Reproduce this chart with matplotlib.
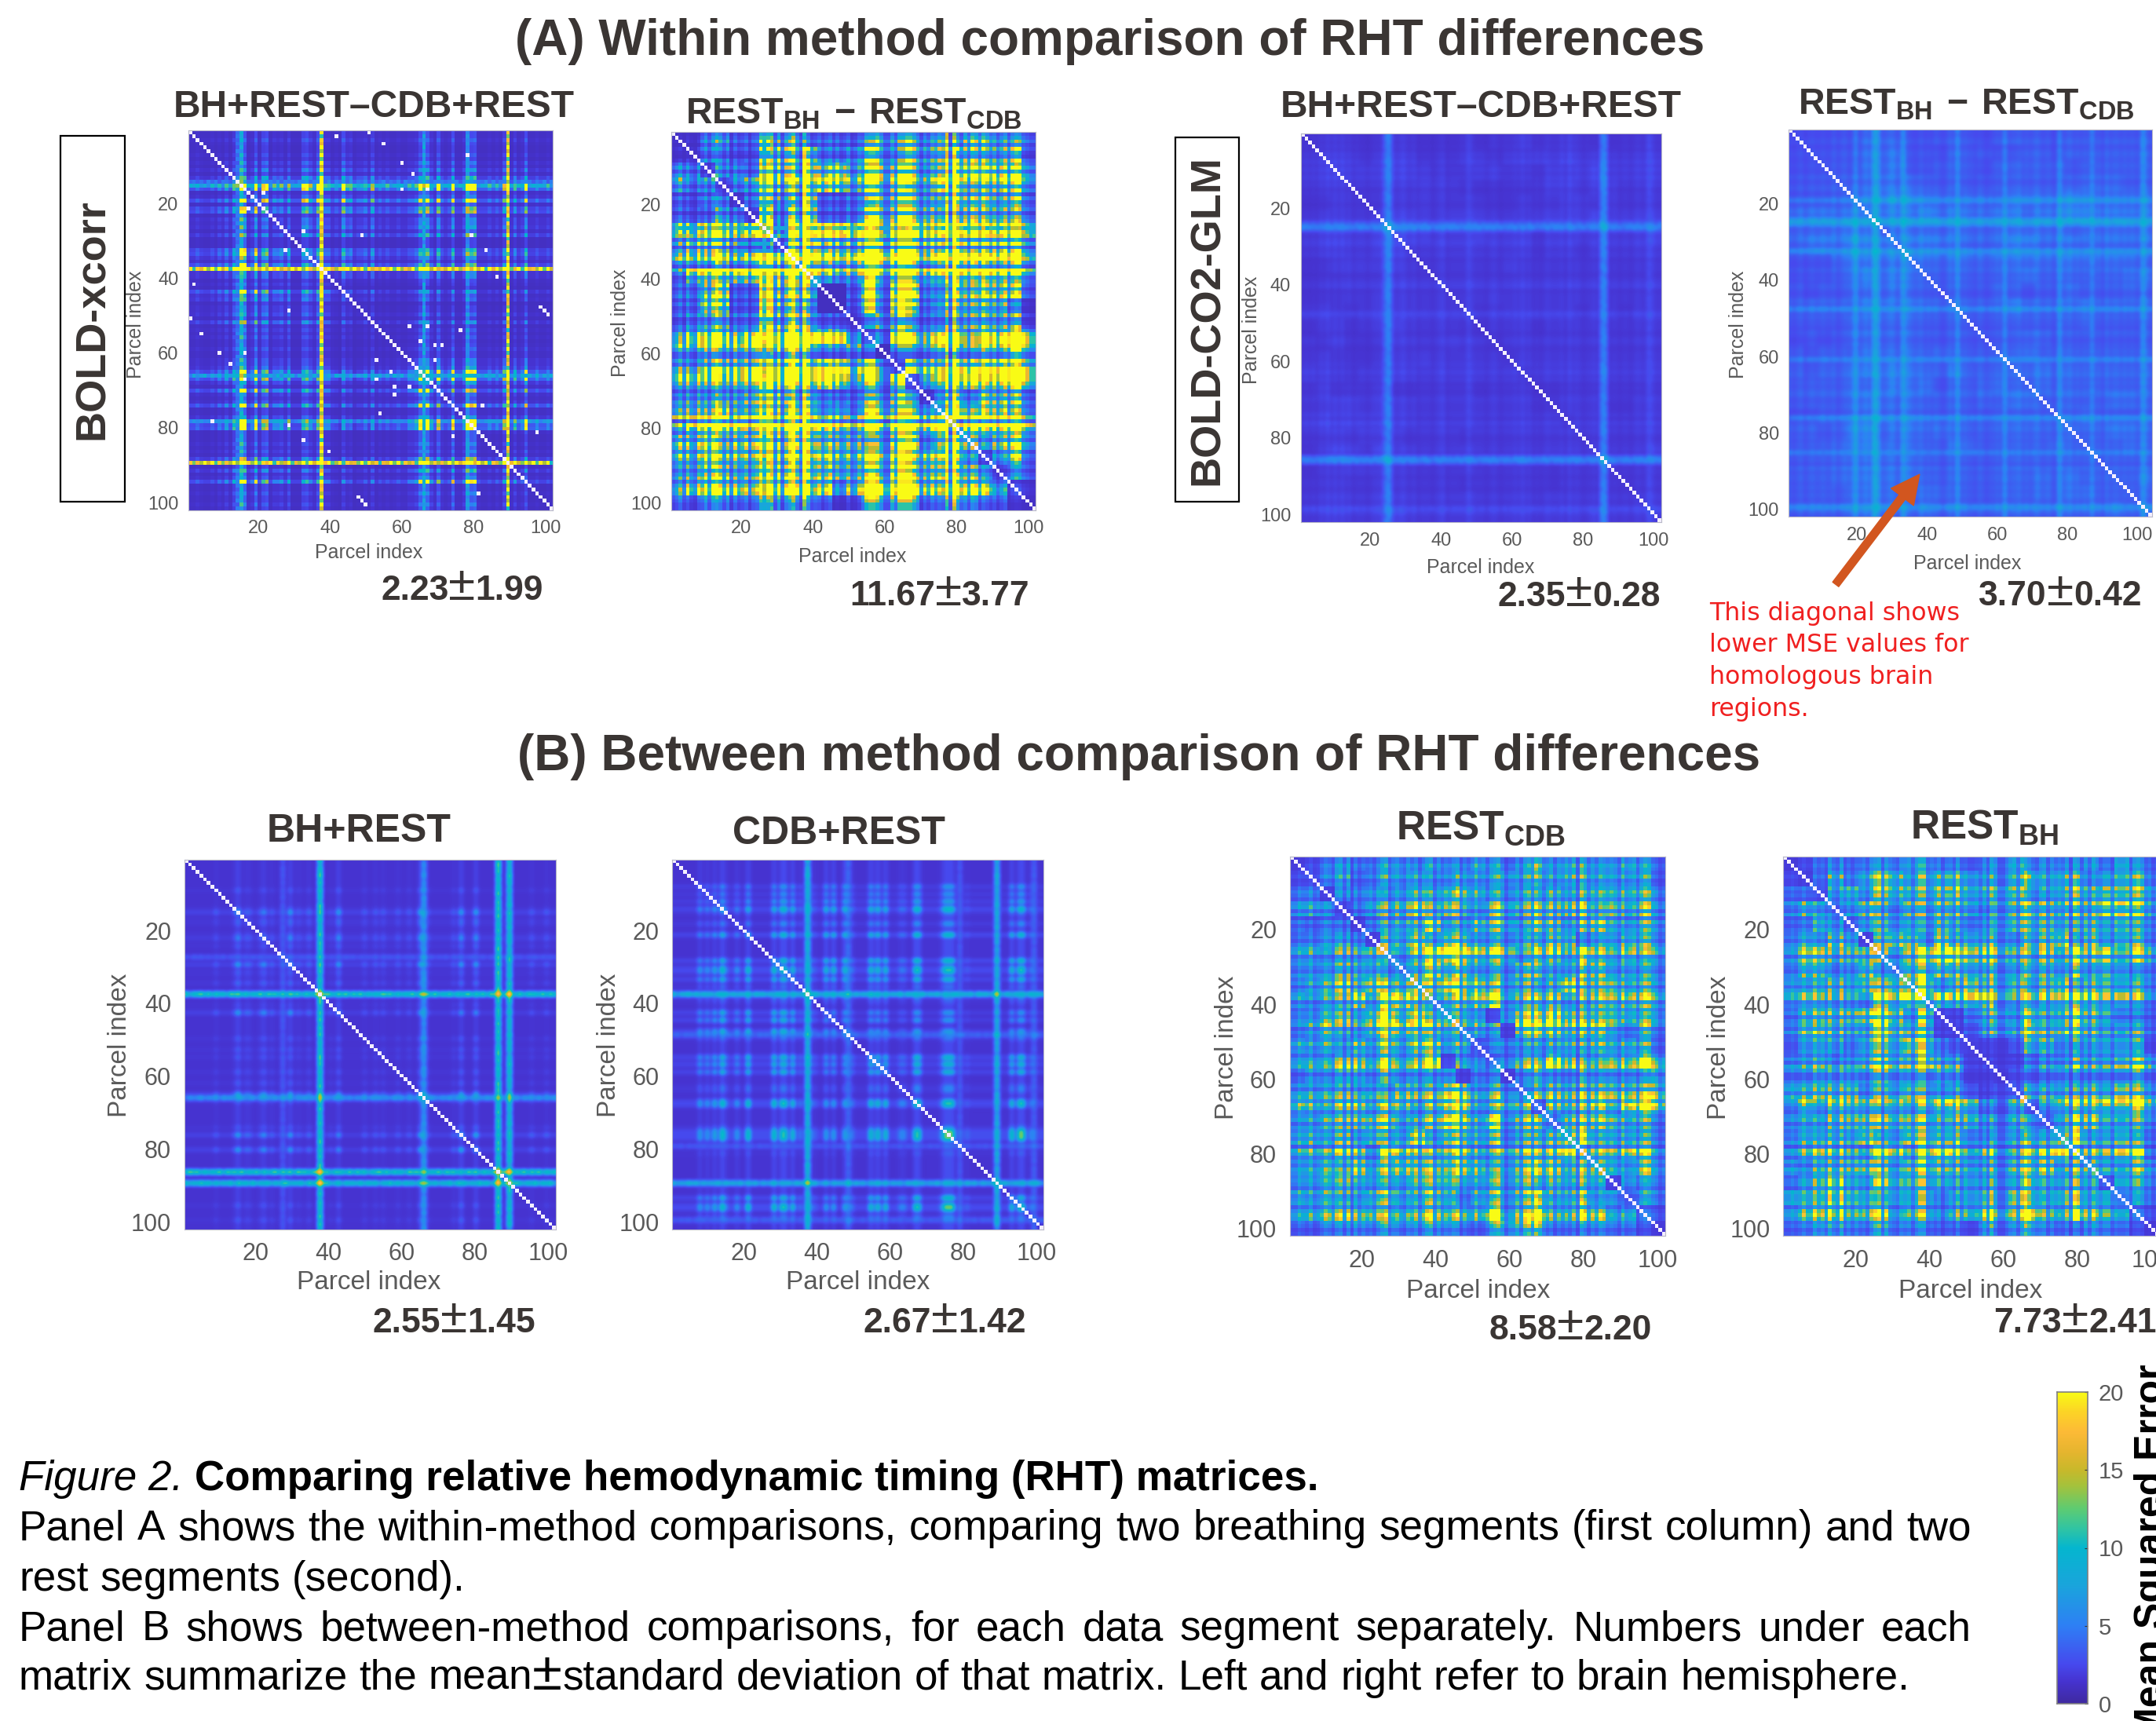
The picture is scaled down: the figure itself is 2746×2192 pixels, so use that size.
import numpy as np
import matplotlib
matplotlib.use("Agg")
import matplotlib.pyplot as plt
from matplotlib.colors import LinearSegmentedColormap, ListedColormap

plt.rcParams["font.family"] = ["Liberation Sans", "DejaVu Sans"]
plt.rcParams["mathtext.fontset"] = "custom"
plt.rcParams["mathtext.bf"] = "Liberation Sans:bold"
plt.rcParams["mathtext.rm"] = "Liberation Sans"

# coarse level of each 4x4 parcel block (0-9), upper triangle only, read by eye
a2_blocks = [
    "1145336553333565656576555", "133225657334654656765563", "13326547574665545776665",
    "1346567775656557855665", "135448223566655866564", "16358223666665665554",
    "5269887957876966676", "268555767765855665", "89657988756976675", "9545957766977765",
    "002838833756663", "02839734655531", "1345433555552", "127556746698", "03345545587",
    "1565867898", "145776798", "14736664", "4956654", "576787", "53565", "1353", "133", "11", "1",
]
b3_blocks = [
    "1245445545446545756655654", "245345554455565656655553", "14454565676555565666665",
    "1355675654665666756565", "145668557775775786566", "16685775555576455665",
    "5468997774675965656", "568675556655775555", "7687765545866655", "4567955564566666",
    "5541577966665", "55417886775354", "2344455565553", "245596556697", "14654655558",
    "3565666668", "265675899", "36776554", "7955554", "666775", "65465", "1444", "244", "22", "1",
]
b4_blocks = [
    "1245455566453567555564755", "136467756675556756645665", "25757766786677556767777",
    "3575465665466766668877", "366565764577776676766", "16874866664678575665",
    "5468897775565867567", "577776665665756545", "7846866656756655", "677896566787665",
    "113564756865333", "12565967865554", "1112664555552", "111344655677", "12345555565",
    "2555565766", "246777798", "25775555", "7955654", "666784", "65566", "2555", "344", "22", "1",
]
a1_blocks = [
    "7" * 25, "6" * 24, "8" * 23, "9" * 22, "9" * 21, "7" * 20,
    "9" * 19, "6" * 18, "6" * 17, "7" * 16, "4" * 15, "4" * 14, "5" * 13, "6" * 12, "7" * 11,
    "9" * 10, "9" * 9, "7" * 8, "8" * 7, "9" * 6, "6" * 5, "7" * 4, "7" * 3, "6" * 2, "6",
]
a3_blocks = [
    "5555455544454556556544555", "555455544455455656555555", "55555554445544455565555",
    "5555565544444566566555", "555565555445556656555", "66665666555666676666",
    "6665556555455555556", "555555555455455555", "55555565555555555", "5555555555555555",
    "555655555555555", "54555555455455", "4555455555555", "455555555555", "45555555555",
    "4555555555", "445555555", "45554455", "4555555", "555555", "55556", "5555", "555", "55", "5",
]
a4_blocks = [
    "4445466544555455554555555", "445466644455544554555555", "45466644555455555455555",
    "6567665555555555566655", "567776656656666776666", "66667666666566776666",
    "5666666666666566666", "566655556655555555", "76666666666666665", "5555555655555566",
    "555565455655565", "55556555565555", "5555555565555", "555665555555", "55655555555",
    "5565555555", "565555555", "55555665", "5565555", "555665", "55565", "5555", "556", "55", "5",
]
b1_blocks = [
    "7" * 25, "7" * 24, "7" * 23, "7" * 22, "8" * 21, "8" * 20,
    "8" * 19, "7" * 18, "7" * 17, "8" * 16, "6" * 15, "6" * 14, "7" * 13, "7" * 12, "7" * 11,
    "7" * 10, "7" * 9, "7" * 8, "8" * 7, "7" * 6, "7" * 5, "7" * 4, "7" * 3, "7" * 2, "7",
]
b2_blocks = [
    "8" * 25, "8" * 24, "9" * 23, "9" * 22, "9" * 21, "9" * 20,
    "9" * 19, "8" * 18, "8" * 17, "8" * 16, "6" * 15, "6" * 14, "8" * 13, "8" * 12, "8" * 11,
    "9" * 10, "8" * 9, "9" * 8, "9" * 7, "9" * 6, "8" * 5, "8" * 4, "8" * 3, "8" * 2, "8",
]

# level of every parcel (0-9), read along the rows
a1_profile = "2232223232" "4252792382" "7824342522" "2785384442" "3284523342" "6232322322" "3348294283" "2382248892" "2232326325" "2382232232"
a2_profile = "3463743758" "4897473745" "7367939649" "3799639845" "7468474573" "4748999633" "7499997536" "4757693974" "7487597574" "6847985433"
a3_profile = "4545465757" "5756455545" "5564775675" "5645554567" "4555555655" "5456545556" "5756454565" "5564756545" "5647745545" "5456555755"
a4_profile = "5456456556" "5564565675" "6757655686" "5676557565" "6545757565" "5465455656" "5667565675" "5654766756" "5655564756" "6565655575"
b1_profile = "2222222242" "2224824422" "4624222282" "4325222223" "2822222242" "2424222422" "4228242222" "2242822282" "2222222222" "2224222422"
b2_profile = "2222222625" "2628422522" "8222222828" "8282422432" "2828228242" "2228482822" "2442288222" "2248882223" "2222222222" "2828824222"
b3_profile = "4465574557" "6478483746" "5647894675" "4768478947" "5768947558" "5647896355" "7489597468" "4757583974" "7587676485" "6747986534"
b4_profile = "4454575575" "6485484646" "5647894865" "4767479945" "6847648475" "5647496335" "6748975478" "4756583984" "7486577476" "6748974534"

# bright lines running through a whole matrix: parcel and level
a1_line_parcels = [37, 88, 15, 65, 14, 77]
a1_line_levels = [18.0, 17.0, 6.5, 7.0, 3.5, 3.5]
a2_line_parcels = [26, 28, 34, 76, 78, 37]
a2_line_levels = [7.0, 7.0, 5.0, 7.0, 7.0, 7.0]
a3_line_parcels = [24, 25, 84, 85, 47, 97]
a3_line_levels = [3.2, 3.8, 3.2, 3.4, 0.9, 1.2]
a4_line_parcels = [19, 24, 25, 32, 47, 60, 75, 84, 98]
a4_line_levels = [2.4, 3.2, 3.4, 3.6, 2.6, 2.6, 2.6, 2.6, 4.0]
b1_line_parcels = [37, 85, 88, 65, 27]
b1_line_levels = [15.0, 15.0, 13.5, 7.0, 2.5]
b2_line_parcels = [37, 88, 48, 98, 78]
b2_line_levels = [11.5, 10.0, 3.5, 3.0, 2.5]

# how each line varies along its length, read along row 37 of the first matrix
line_dots = "6953749284917364958273649185739264817359264819573692481756392847165938274619583726491857362948175392"

# floor and gain of the block term per matrix
a1_scale = [0.9, 26.0]
a2_scale = [1.0, 62.0]
a3_scale = [1.0, 10.0]
a4_scale = [1.7, 18.0]
b1_scale = [1.3, 18.0]
b2_scale = [1.3, 17.0]
b3_scale = [1.6, 42.0]
b4_scale = [1.6, 42.0]

# isolated cells that came out white in the first matrix
a1_white_cells = [(41, 2), (50, 1), (54, 4), (48, 28), (59, 9), (62, 12), (59, 16), (66, 16), (21, 17), (32, 27),
                  (78, 28), (77, 7), (82, 32), (85, 39), (97, 47), (98, 48), (99, 49), (61, 52), (66, 52),
                  (75, 53), (64, 56), (68, 57), (70, 57), (52, 61), (68, 61), (81, 73), (96, 80)]

tick_values = [20, 40, 60, 80, 100]
cbar_ticks = [0, 5, 10, 15, 20]
stat_a = ["2.23", "1.99", "11.67", "3.77", "2.35", "0.28", "3.70", "0.42"]
stat_b = ["2.55", "1.45", "2.67", "1.42", "8.58", "2.20", "7.73", "2.41"]

GREY = "#5a5a5a"
DARK = "#3a3533"
S = 1.7513  # shrunk preview to full size


def make_matrix(blocks, profile, scale, line_parcels=(), line_levels=()):
    floor, gain = scale
    b = np.zeros((25, 25))
    for i, row in enumerate(blocks):
        row = row.ljust(25 - i, row[-1])
        for k, ch in enumerate(row[: 25 - i]):
            b[i, i + k] = int(ch)
            b[i + k, i] = int(ch)
    cells = np.kron(b, np.ones((4, 4)))
    p = (np.array([int(c) for c in profile], dtype=float) / 9) ** 1.5
    m = floor + gain * (cells / 9) ** 1.4 * np.outer(p, p)
    dots = np.array([int(c) for c in line_dots]) / 9
    for k, lev in zip(line_parcels, line_levels):
        along = lev * (0.45 + 0.7 * np.roll(dots, k))
        m[k - 1, :] += along
        m[:, k - 1] += along
    return (m + m.T) / 2


parula = LinearSegmentedColormap.from_list("parula_like", [
    (0.0, "#3f2aa0"), (0.07, "#4633d0"), (0.125, "#4749ee"), (0.25, "#2e80f5"),
    (0.38, "#1aa5dc"), (0.5, "#05b6cf"), (0.56, "#2fc4a5"), (0.625, "#5dcc73"),
    (0.7, "#a5c23c"), (0.75, "#c8b92b"), (0.81, "#e6b52f"), (0.875, "#fdbb37"),
    (0.94, "#fcd526"), (1.0, "#f9fb15")])
white_only = ListedColormap(["#f4efff"])

W, H = 2746, 2192
fig = plt.figure(figsize=(W / 100, H / 100), dpi=100, facecolor="white")
overlay = fig.add_axes([0, 0, 1, 1], zorder=5)
overlay.set_xlim(0, W)
overlay.set_ylim(H, 0)
overlay.axis("off")
overlay.patch.set_alpha(0)


def pane(x0, x1, y0, y1, m, white, smooth, tick_size, pad):
    ax = fig.add_axes([x0 * S / W, 1 - y1 * S / H, (x1 - x0) * S / W, (y1 - y0) * S / H])
    ext = (0.5, 100.5, 100.5, 0.5)
    ax.imshow(m, cmap=parula, vmin=0, vmax=20, extent=ext, aspect="auto", interpolation=smooth)
    spots = np.zeros_like(m, dtype=bool)
    np.fill_diagonal(spots, True)
    for r, c in white:
        spots[r - 1, c - 1] = True
        spots[c - 1, r - 1] = True
    ax.imshow(np.ma.masked_where(~spots, np.ones_like(m)), cmap=white_only, extent=ext, aspect="auto",
              interpolation="nearest")
    tick_k = 0.965 if x0 == 1301 else 0.985
    pos = [v * tick_k for v in tick_values]
    ax.set_xticks(pos, [str(v) for v in tick_values])
    ax.set_yticks([v * 0.985 for v in tick_values], [str(v) for v in tick_values])
    ax.tick_params(length=0, labelsize=tick_size, labelcolor=GREY, pad=pad)
    for s in ax.spines.values():
        s.set_color("#b8b8c8")
        s.set_linewidth(0.8)
    return ax


def txt(x, y, s, **kw):
    return overlay.text(x * S, y * S, s, **kw)


def run_words(x0, y, words, x1=None, size=38.2, gap_em=0.278, color="black"):
    # words are (text, weight, style, gap before, size factor)
    r = fig.canvas.get_renderer()
    items = []
    for w, weight, style, gap, f in words:
        t = overlay.text(x0, y, w, fontsize=size * f, fontweight=weight, fontstyle=style, color=color, va="baseline")
        items.append((t, t.get_window_extent(r).width, gap))
    total = sum(i[1] for i in items)
    gap_px = gap_em * size * 100 / 72
    if x1 is not None:
        n = sum(i[2] for i in items)
        gap_px = (x1 - x0 - total) / n
    x = x0
    for t, wd, gap in items:
        x += gap * gap_px
        t.set_x(x)
        x += wd


mat_a1 = make_matrix(a1_blocks, a1_profile, a1_scale, a1_line_parcels, a1_line_levels)
mat_a2 = make_matrix(a2_blocks, a2_profile, a2_scale, a2_line_parcels, a2_line_levels)
mat_a3 = make_matrix(a3_blocks, a3_profile, a3_scale, a3_line_parcels, a3_line_levels)
mat_a4 = make_matrix(a4_blocks, a4_profile, a4_scale, a4_line_parcels, a4_line_levels)
mat_b1 = make_matrix(b1_blocks, b1_profile, b1_scale, b1_line_parcels, b1_line_levels)
mat_b2 = make_matrix(b2_blocks, b2_profile, b2_scale, b2_line_parcels, b2_line_levels)
mat_b3 = make_matrix(b3_blocks, b3_profile, b3_scale)
mat_b4 = make_matrix(b4_blocks, b4_profile, b4_scale)

rest_diff = r"$\mathbf{REST_{BH}\,-\,REST_{CDB}}$"
# x0 x1 y0 y1, white cells, smoothing, title cx, title y, title size, xlabel cx, cy, ylabel cx, cy, stat x, stat y
top = [
    (137, 402, 95, 371, mat_a1, a1_white_cells, "nearest", "BH+REST\u2013CDB+REST", 272, 85, 34.5, 268, 402, 99, 236, 277, 436, 0),
    (488, 753, 96, 371, mat_a2, [], "nearest", rest_diff, 621, 90, 33.5, 620, 405, 451, 235, 618, 440, 2),
    (946, 1208, 97, 380, mat_a3, [], "bicubic", "BH+REST\u2013CDB+REST", 1077, 85, 34.5, 1077, 413, 910, 240, 1089, 441, 4),
    (1301, 1565, 94, 376, mat_a4, [], "bicubic", rest_diff, 1430, 83, 33.5, 1431, 410, 1264, 236, 1439, 440, 6),
]
bot = [
    (134, 404, 625, 894, mat_b1, [], "bicubic", "BH+REST", 261, 612, 36, 268, 933, 87, 760, 271, 969, 0),
    (489, 759, 625, 894, mat_b2, [], "bicubic", "CDB+REST", 610, 614, 36, 624, 933, 443, 760, 628, 969, 2),
    (938, 1211, 623, 899, mat_b3, [], "nearest", r"$\mathbf{REST_{CDB}}$", 1077, 610, 37, 1075, 939, 892, 762, 1083, 974, 4),
    (1297, 1570, 623, 899, mat_b4, [], "nearest", r"$\mathbf{REST_{BH}}$", 1443, 610, 37, 1433, 939, 1250, 762, 1450, 969, 6),
]
for rows, stats, tick_size, label_size, pad in [(top, stat_a, 17, 18, 9), (bot, stat_b, 22, 24, 12)]:
    for x0, x1, y0, y1, m, white, smooth, title, tx, ty, tsize, lx, ly, yx, yy, sx, sy, k in rows:
        pane(x0, x1, y0, y1, m, white, smooth, tick_size, pad)
        txt(tx, ty, title, fontsize=tsize, fontweight="bold", color=DARK, ha="center", va="baseline")
        txt(lx, ly, "Parcel index", fontsize=label_size, color=GREY, ha="center", va="center")
        txt(yx, yy, "Parcel index", fontsize=label_size, color=GREY, ha="center", va="center", rotation=90)
        run_words(sx * S, sy * S, [(stats[k], "bold", "normal", 0, 1), ("\u00b1", "normal", "normal", 0, 1.4),
                                   (stats[k + 1], "bold", "normal", 0, 1)], size=32, color=DARK)

txt(807, 40, "(A) Within method comparison of RHT differences", fontsize=46, fontweight="bold", color=DARK,
    ha="center", va="baseline")
txt(828, 560, "(B) Between method comparison of RHT differences", fontsize=46, fontweight="bold", color=DARK,
    ha="center", va="baseline")

for x0, x1, y0, y1, lab in [(44, 91, 99, 365, "BOLD-xcorr"), (855, 901, 100, 365, "BOLD-CO2-GLM")]:
    overlay.add_patch(plt.Rectangle((x0 * S, y0 * S), (x1 - x0) * S, (y1 - y0) * S, fill=False, ec="black", lw=1.6))
    txt((x0 + x1) / 2, (y0 + y1) / 2, lab, fontsize=39, fontweight="bold", color=DARK, rotation=90,
        ha="center", va="center")

overlay.annotate("", xy=(1396 * S, 345 * S), xytext=(1335 * S, 425 * S),
                 arrowprops=dict(facecolor="#d2561f", edgecolor="#d2561f", width=7, headwidth=26, headlength=26))
for i, line in enumerate(["This diagonal shows", "lower MSE values for", "homologous brain", "regions."]):
    txt(1243, 451 + i * 23.2, line, fontsize=22.8, color="#f02020", family="DejaVu Sans", va="baseline")

cax = fig.add_axes([2620 / W, 1 - 2170 / H, 39 / W, 397 / H])
cax.imshow(np.linspace(cbar_ticks[-1], cbar_ticks[0], 256)[:, None], cmap=parula, vmin=0, vmax=20, aspect="auto",
           extent=(0, 1, 0, 20))
cax.set_xticks([])
cax.yaxis.tick_right()
cax.set_yticks(cbar_ticks, [str(v) for v in cbar_ticks])
cax.tick_params(axis="y", direction="in", length=3, color="#333333", labelsize=21, labelcolor=GREY, pad=10)
for s in cax.spines.values():
    s.set_color("#808080")
    s.set_linewidth(1.2)
overlay.text(2741, 1737, "Mean Squared Error", fontsize=36, fontweight="bold", color="black", rotation=90,
             ha="center", va="top")

run_words(24, 1898, [("Figure 2.", "normal", "italic", 0, 1),
                     ("Comparing relative hemodynamic timing (RHT) matrices.", "bold", "normal", 1, 1)])


def words_of(s):
    return [(w, "normal", "normal", 0 if i == 0 else 1, 1) for i, w in enumerate(s.split())]


run_words(24, 1961, words_of("Panel A shows the within-method comparisons, comparing two breathing segments (first column) and two"),
          x1=2511)
run_words(24, 2026, words_of("rest segments (second)."))
run_words(24, 2089, words_of("Panel B shows between-method comparisons, for each data segment separately.  Numbers under each"),
          x1=2511)
run_words(24, 2152, words_of("matrix summarize the mean") +
          [("\u00b1", "normal", "normal", 0, 1.3), ("standard", "normal", "normal", 0, 1)] +
          [(w, "normal", "normal", 1, 1) for w in "deviation of that matrix. Left and right refer to brain hemisphere.".split()])

fig.savefig("out.png", dpi=100)
